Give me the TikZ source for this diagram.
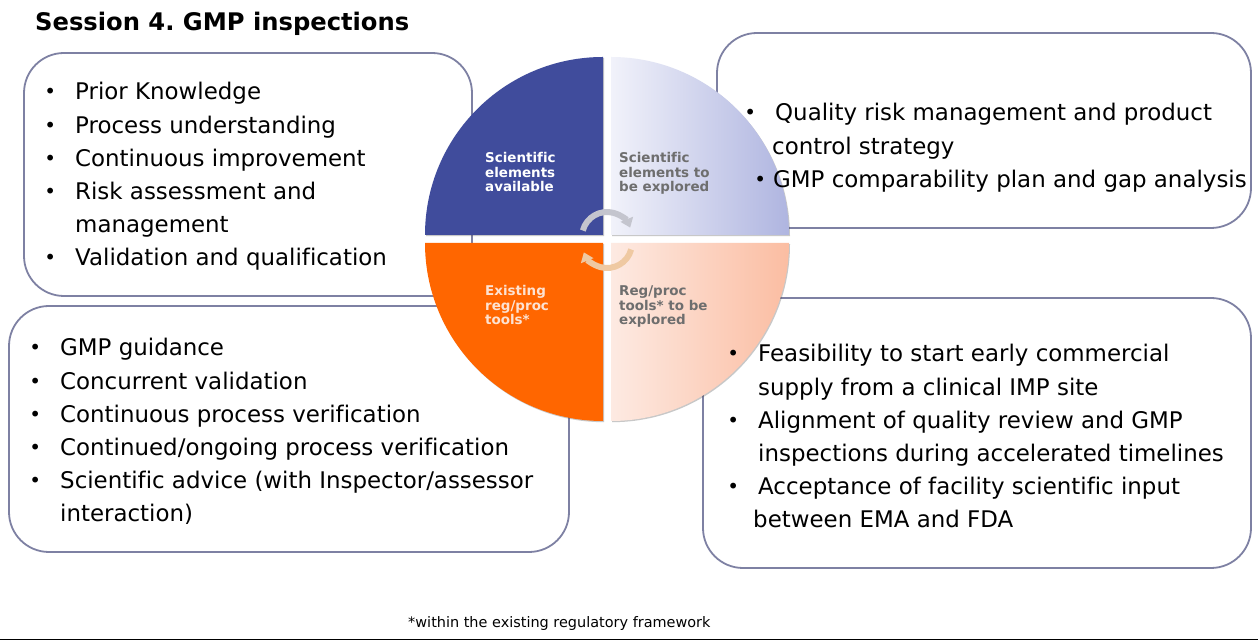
\documentclass[tikz,border=0pt]{standalone}
\usepackage{fontspec}
\setmainfont{DejaVu Sans}[Ligatures=NoCommon]
\usetikzlibrary{arrows.meta,shadows}

\definecolor{qblue}{HTML}{404C9C}
\definecolor{qorange}{HTML}{FF6600}
\definecolor{lavL}{HTML}{F1F2FA}
\definecolor{lavR}{HTML}{AFB5E0}
\definecolor{peachL}{HTML}{FDEAE2}
\definecolor{peachR}{HTML}{FBBDA2}
\definecolor{boxline}{HTML}{7E81A3}
\definecolor{labelgrey}{HTML}{6E6E6E}
\definecolor{labelpeach}{HTML}{FDE2D2}
\definecolor{arcgrey}{HTML}{C4C5CE}
\definecolor{arctan}{HTML}{EFC9A2}

\frenchspacing

% bullet glyph for list lines; continuation lines use \hspace*{25bp}
\newcommand\bulglyph{\makebox[0pt][c]{\raisebox{1bp}{\fontsize{20}{0}\selectfont\textbullet}}}
\newcommand\bul{\bulglyph\hspace{25bp}}

\tikzset{
  infobox/.style={draw=boxline, line width=1.8bp, rounded corners=40bp, fill=white},
  bodytext/.style={anchor=base west, inner sep=0pt, font=\fontsize{23}{33.2}\selectfont},
  quadlabel/.style={anchor=base west, inner sep=0pt, font=\bfseries\fontsize{13.5}{14.5}\selectfont},
  quadshadow/.style={drop shadow={shadow xshift=1bp, shadow yshift=-1.2bp, opacity=0.3, fill=black!70}},
  cyclearc/.style={line width=6bp, -{Triangle[length=9bp,width=13bp]}},
}

\begin{document}
\begin{tikzpicture}[x=1bp, y=1bp]
  \useasboundingbox (0,0) rectangle (1258,641);
  \fill[white] (0,0) rectangle (1258,641);

  % title
  \node[anchor=base west, inner sep=0pt, font=\bfseries\fontsize{24.3}{28}\selectfont] (title) at (35,610) {Session 4. GMP inspections};

  % rounded list boxes
  \draw[infobox] (24,345) rectangle (472,588);
  \draw[infobox] (717,413) rectangle (1251,608);
  \draw[infobox] (9,89) rectangle (569,335);
  \draw[infobox] (703,73) rectangle (1251,343);

  % four quadrants of the central circle
  \fill[qblue, quadshadow] (603,406) -- (425,406) arc[start angle=180, end angle=90, radius=178] -- cycle;
  \shade[left color=lavL, right color=lavR, quadshadow] (611,406) -- (611,584) arc[start angle=90, end angle=0, radius=178] -- cycle;
  \fill[qorange, quadshadow] (603,398) -- (603,220) arc[start angle=270, end angle=180, radius=178] -- cycle;
  \shade[left color=peachL, right color=peachR, quadshadow] (611,398) -- (789,398) arc[start angle=0, end angle=-90, radius=178] -- cycle;

  % cycle arrows at the hub
  \coordinate (hubtop) at (607,404);
  \coordinate (hubbot) at (607,398);
  \draw[cyclearc, arcgrey] (hubtop) ++(165:25) arc[start angle=165, end angle=22, radius=25];
  \draw[cyclearc, arctan] (hubbot) ++(-15:25) arc[start angle=-15, end angle=-158, radius=25];

  % quadrant labels
  \node[quadlabel, text=white] (qa) at (485,478) {\parbox[t]{100bp}{Scientific\\elements\\available}};
  \node[quadlabel, text=labelgrey] (qb) at (619,478) {\parbox[t]{100bp}{Scientific\\elements to\\be explored}};
  \node[quadlabel, text=labelpeach] (qc) at (485,345) {\parbox[t]{100bp}{Existing\\reg/proc\\tools*}};
  \node[quadlabel, text=labelgrey] (qd) at (619,345) {\parbox[t]{100bp}{Reg/proc\\tools* to be\\explored}};

  % list texts
  \node[bodytext] (known) at (50,541) {\parbox[t]{430bp}{%
    \bul Prior Knowledge\\
    \bul Process understanding\\
    \bul Continuous improvement\\
    \bul Risk assessment and\\
    \hspace*{25bp}management\\
    \bul Validation and qualification}};

  \node[bodytext] (explore) at (750,520) {\parbox[t]{520bp}{%
    \bul Quality risk management and product\\
    \hspace*{22bp}control strategy\\
    \hspace*{10bp}\bulglyph\hspace{13bp}GMP comparability plan and gap analysis}};

  \node[bodytext] (tools) at (35,285) {\parbox[t]{540bp}{%
    \bul GMP guidance\\
    \bul Concurrent validation\\
    \bul Continuous process verification\\
    \bul Continued/ongoing process verification\\
    \bul Scientific advice (with Inspector/assessor\\
    \hspace*{25bp}interaction)}};

  \node[bodytext] (regexplore) at (733,279) {\parbox[t]{520bp}{%
    \bul Feasibility to start early commercial\\
    \hspace*{25bp}supply from a clinical IMP site\\
    \bul Alignment of quality review and GMP\\
    \hspace*{25bp}inspections during accelerated timelines\\
    \bul Acceptance of facility scientific input\\
    \hspace*{20bp}between EMA and FDA}};

  % footnote and rule
  \node[anchor=base west, inner sep=0pt, font=\fontsize{14.5}{16}\selectfont] (note) at (408,13) {*within the existing regulatory framework};
  \draw[black, line width=1.6bp] (0,1.5) -- (1258,1.5);
\end{tikzpicture}
\end{document}
